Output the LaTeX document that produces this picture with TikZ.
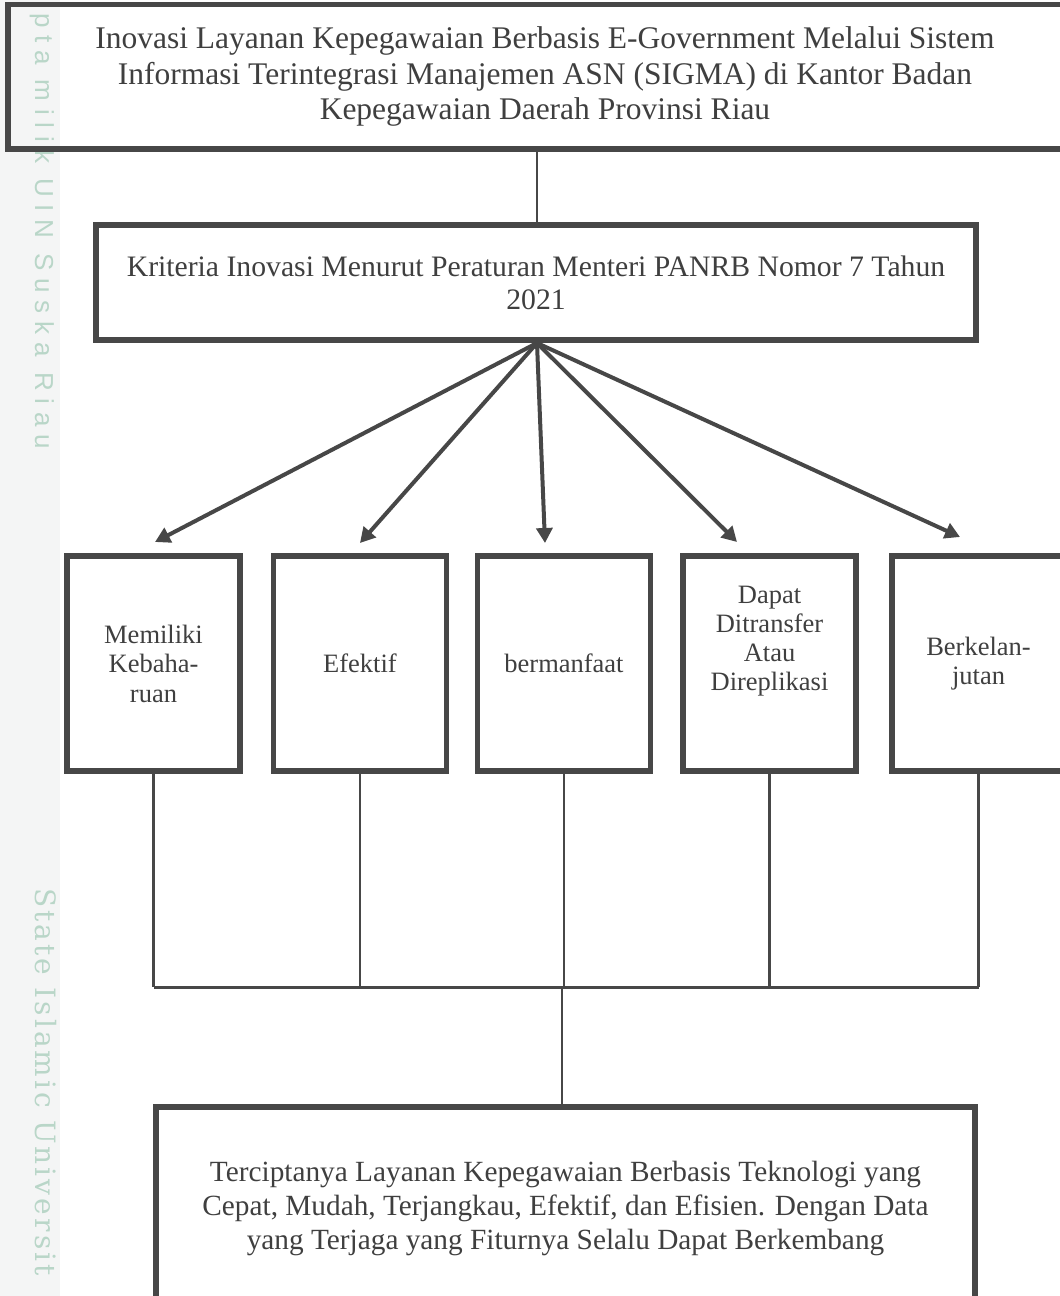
\documentclass[tikz,border=0pt]{standalone}
\usepackage{fontspec}
\setmainfont{Liberation Serif}
\newfontfamily\wmsans[LetterSpace=30]{Liberation Sans}
\newfontfamily\wmserif[LetterSpace=11]{DejaVu Serif}
\usetikzlibrary{arrows.meta,calc}
\definecolor{ln}{HTML}{474747}
\definecolor{tx}{HTML}{3F3F3F}
\definecolor{wm}{HTML}{B9D6C8}
\definecolor{strip}{HTML}{F4F5F5}
\begin{document}
\begin{tikzpicture}[x=1pt,y=-1pt,
  boxstyle/.style={draw=ln, line width=5.5pt, inner sep=0pt, text=tx, align=center},
  smallbox/.style={boxstyle, minimum width=173pt, minimum height=215pt, font=\fontsize{26.5}{29.5}\selectfont},
  arr/.style={draw=ln, line width=4pt, -{Triangle[length=15pt,width=16pt]}},
  thinline/.style={draw=ln, line width=2.8pt},
  wmtext/.style={text=wm, rotate=-90, anchor=base west, inner sep=0pt}]
\useasboundingbox (0,0) rectangle (1060,1296);
\fill[strip] (0,0) rectangle (60,1296);
\node[wmtext, font=\wmsans\fontsize{26}{26}\selectfont] (wm1) at (35,13) {pta milik UIN Suska Riau};
\node[wmtext, font=\wmserif\fontsize{28}{28}\selectfont] (wm2) at (35,888) {State Islamic Universit};

\node[boxstyle, minimum width=1074pt, minimum height=144.5pt, font=\fontsize{31.5}{35.5}\selectfont] (top) at (545,76.75)
  {Inovasi Layanan Kepegawaian Berbasis E-Government Melalui Sistem\\Informasi Terintegrasi Manajemen ASN (SIGMA) di Kantor Badan\\Kepegawaian Daerah Provinsi Riau};
\node[boxstyle, minimum width=880pt, minimum height=115pt, font=\fontsize{29.7}{33}\selectfont] (sec) at (536,282.5)
  {Kriteria Inovasi Menurut Peraturan Menteri PANRB Nomor 7 Tahun\\2021};

\node[smallbox] (b1) at (153.5,663.5) {Memiliki\\Kebaha-\\ruan};
\node[smallbox] (b2) at (360,663.5) {Efektif};
\node[smallbox] (b3) at (564,663.5) {bermanfaat};
\node[smallbox] (b4) at (769.5,663.5) {};
\node[text=tx, align=center, inner sep=0pt, font=\fontsize{26.5}{29.2}\selectfont] (b4t) at (769.5,641) {Dapat\\Ditransfer\\Atau\\Direplikasi};
\node[smallbox] (b5) at (978.5,663.5) {Berkelan-\\jutan};

\node[boxstyle, minimum width=819pt, minimum height=203pt, font=\fontsize{29.3}{34}\selectfont] (bot) at (565.5,1208.5)
  {Terciptanya Layanan Kepegawaian Berbasis Teknologi yang\\Cepat, Mudah, Terjangkau, Efektif, dan Efisien. Dengan Data\\yang Terjaga yang Fiturnya Selalu Dapat Berkembang};

\coordinate (src) at (537,343);
\draw[thinline] (top.south -| src) -- (sec.north -| src);
\coordinate (t1) at (155,542);
\coordinate (t2) at (360,543);
\coordinate (t3) at (545,543);
\coordinate (t4) at (737,542);
\coordinate (t5) at (960,537);
\foreach \t in {t1,t2,t3,t4,t5} {\draw[arr] (src) -- (\t);}

\coordinate (hl) at (562,987);
\foreach \b in {b1,b2,b3,b4,b5} {\draw[thinline] (\b.south) -- (\b.south |- hl);}
\draw[thinline, line width=3pt] (b1.south |- hl) -- (b5.south |- hl);
\draw[thinline] (hl) -- (hl |- bot.north);
\end{tikzpicture}
\end{document}
